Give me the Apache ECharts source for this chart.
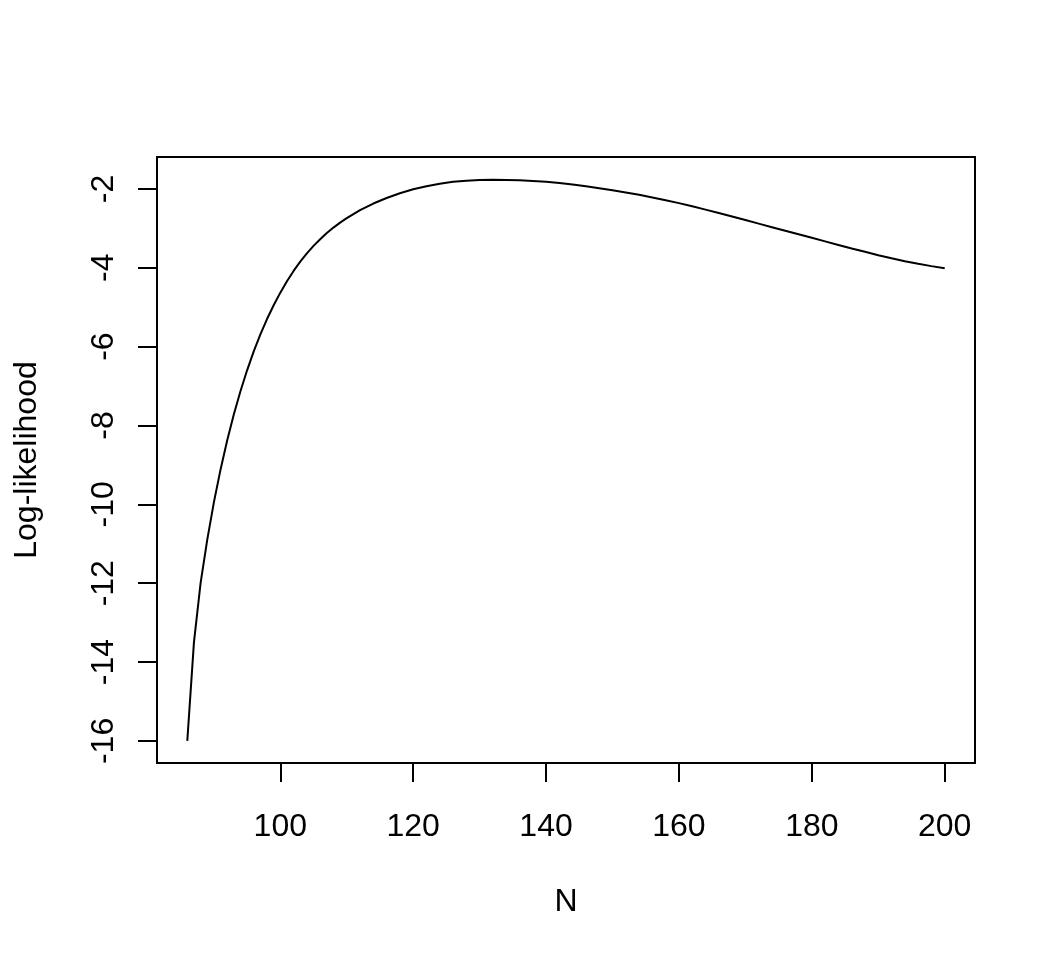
<!DOCTYPE html>
<html>
<head>
<meta charset="utf-8">
<script src="https://cdn.jsdelivr.net/npm/echarts@6/dist/echarts.min.js"></script>
<style>
  html, body { margin: 0; padding: 0; background: #fff; }
  #main { width: 1056px; height: 960px; }
</style>
</head>
<body>
<div id="main"></div>
<script>
// 读图得到的数据
var nValues = [86, 87, 88, 89, 90, 91, 92, 93, 94, 95, 96, 97, 98, 99, 100,
  101, 102, 103, 104, 105, 106, 107, 108, 109, 110, 112, 114, 116, 118, 120,
  122, 124, 126, 128, 130, 132, 134, 136, 138, 140, 142, 144, 146, 148, 150,
  152, 154, 156, 158, 160, 162, 164, 166, 168, 170, 172, 174, 176, 178, 180,
  182, 184, 186, 188, 190, 192, 194, 196, 198, 200];
var logLik = [-16.0, -13.5, -12.0, -10.9, -9.95, -9.12, -8.38, -7.72, -7.13, -6.6,
  -6.12, -5.69, -5.3, -4.95, -4.63, -4.34, -4.08, -3.845, -3.635, -3.445,
  -3.275, -3.12, -2.98, -2.855, -2.74, -2.54, -2.37, -2.23, -2.11, -2.01,
  -1.93, -1.87, -1.82, -1.79, -1.775, -1.77, -1.772, -1.78, -1.80, -1.82,
  -1.85, -1.885, -1.93, -1.98, -2.035, -2.09, -2.15, -2.215, -2.285, -2.36,
  -2.44, -2.525, -2.61, -2.70, -2.79, -2.88, -2.97, -3.06, -3.15, -3.24,
  -3.33, -3.42, -3.51, -3.595, -3.68, -3.76, -3.835, -3.90, -3.958, -4.01];
var xTicks = [100, 120, 140, 160, 180, 200];
var yTicks = [-16, -14, -12, -10, -8, -6, -4, -2];

var font = "'Liberation Sans', Arial, Helvetica, sans-serif";
var black = "#000";

var myChart = echarts.init(document.getElementById("main"));

var seriesData = nValues.map(function (n, i) {
  return [n, logLik[i]];
});

var option = {
  animation: false,
  backgroundColor: "#fff",
  grid: { left: 157, right: 81, top: 157, bottom: 197 },
  xAxis: [
    {
      type: "value",
      position: "bottom",
      min: 81.44,
      max: 204.56,
      axisLine: { show: true, onZero: false, lineStyle: { color: black, width: 2 } },
      axisTick: { show: true, length: 19, customValues: xTicks, lineStyle: { color: black, width: 2 } },
      axisLabel: { customValues: xTicks, color: black, fontSize: 32, fontFamily: font, margin: 48 },
      splitLine: { show: false },
      name: "N",
      nameLocation: "middle",
      nameGap: 123,
      nameTextStyle: { color: black, fontSize: 32, fontFamily: font }
    },
    {
      type: "value",
      position: "top",
      min: 81.44,
      max: 204.56,
      axisLine: { show: true, onZero: false, lineStyle: { color: black, width: 2 } },
      axisTick: { show: false },
      axisLabel: { show: false },
      splitLine: { show: false }
    }
  ],
  yAxis: [
    {
      type: "value",
      position: "left",
      min: -16.56,
      max: -1.19,
      axisLine: { show: true, onZero: false, lineStyle: { color: black, width: 2 } },
      axisTick: { show: true, length: 19, customValues: yTicks, lineStyle: { color: black, width: 2 } },
      axisLabel: { customValues: yTicks, rotate: 90, color: black, fontSize: 32, fontFamily: font, margin: 37 },
      splitLine: { show: false },
      name: "Log-likelihood",
      nameLocation: "middle",
      nameRotate: 90,
      nameGap: 114,
      nameTextStyle: { color: black, fontSize: 32, fontFamily: font }
    },
    {
      type: "value",
      position: "right",
      min: -16.56,
      max: -1.19,
      axisLine: { show: true, onZero: false, lineStyle: { color: black, width: 2 } },
      axisTick: { show: false },
      axisLabel: { show: false },
      splitLine: { show: false }
    }
  ],
  series: [
    {
      type: "line",
      xAxisIndex: 0,
      yAxisIndex: 0,
      data: seriesData,
      showSymbol: false,
      symbol: "none",
      smooth: false,
      lineStyle: { color: black, width: 2 }
    }
  ]
};

myChart.setOption(option);
</script>
</body>
</html>
